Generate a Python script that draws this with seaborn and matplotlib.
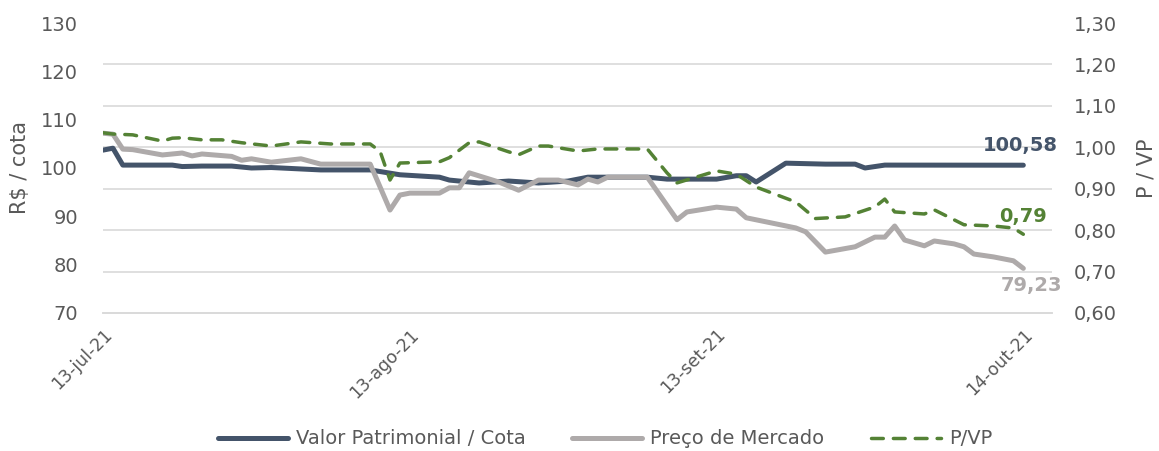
import pandas as pd
import numpy as np
import matplotlib
matplotlib.use("Agg")
import matplotlib.pyplot as plt
import seaborn as sns
from matplotlib.ticker import FixedLocator, FuncFormatter

# dias corridos desde 13-jul-21 e valores
dias_vp = [0, 1, 2, 7, 8, 10, 13, 15, 17, 22, 27, 30, 34, 35, 38, 41, 44, 47, 49,
           55, 57, 62, 64, 65, 66, 69, 73, 76, 77, 79, 93]
valor_patrimonial = [103.7, 104.1, 100.6, 100.6, 100.3, 100.4, 100.4, 100.0, 100.1, 99.6, 99.6,
                     98.6, 98.1, 97.5, 96.9, 97.3, 96.9, 97.3, 98.1, 98.1, 97.7, 97.7, 98.4,
                     98.4, 97.1, 101.0, 100.8, 100.8, 100.0, 100.6, 100.58]

dias_preco = [0, 1, 2, 3, 6, 8, 9, 10, 13, 14, 15, 17, 20, 22, 27, 29, 30, 31, 34, 35, 36,
              37, 40, 42, 44, 46, 48, 49, 50, 51, 55, 58, 59, 62, 64, 65, 70, 71, 73, 76,
              78, 79, 80, 81, 83, 84, 86, 87, 88, 90, 92, 93]
preco_mercado = [107.2, 107.0, 103.9, 103.8, 102.7, 103.1, 102.5, 102.9, 102.4, 101.6, 101.9,
                 101.2, 101.9, 100.8, 100.8, 91.3, 94.4, 94.8, 94.8, 95.9, 95.9, 99.0, 97.1,
                 95.4, 97.5, 97.5, 96.5, 97.7, 97.1, 98.1, 98.1, 89.3, 90.9, 91.9, 91.5, 89.7,
                 87.6, 86.8, 82.6, 83.7, 85.7, 85.7, 88.0, 85.1, 83.9, 84.9, 84.3, 83.7, 82.2,
                 81.6, 80.8, 79.23]

dias_pvp = [0, 1, 3, 4, 6, 7, 8, 10, 12, 14, 17, 20, 23, 27, 28, 29, 30, 34, 35, 37, 38, 41,
            42, 44, 45, 48, 50, 55, 57, 58, 62, 64, 66, 70, 72, 75, 78, 79, 80, 83, 84, 85,
            87, 90, 92, 93]
pvp = [1.035, 1.032, 1.030, 1.025, 1.015, 1.022, 1.023, 1.018, 1.018, 1.011, 1.003, 1.013,
       1.008, 1.008, 0.990, 0.921, 0.962, 0.965, 0.975, 1.011, 1.013, 0.989, 0.982, 1.003,
       1.003, 0.991, 0.996, 0.996, 0.938, 0.914, 0.943, 0.935, 0.904, 0.868, 0.828, 0.832,
       0.856, 0.875, 0.844, 0.839, 0.849, 0.837, 0.813, 0.810, 0.805, 0.79]

tick_datas = ["2021-07-13", "2021-08-13", "2021-09-13", "2021-10-14"]
tick_labels = ["13-jul-21", "13-ago-21", "13-set-21", "14-out-21"]

inicio = pd.Timestamp("2021-07-13")
df_vp = pd.DataFrame({"data": inicio + pd.to_timedelta(dias_vp, unit="D"), "v": valor_patrimonial})
df_preco = pd.DataFrame({"data": inicio + pd.to_timedelta(dias_preco, unit="D"), "v": preco_mercado})
df_pvp = pd.DataFrame({"data": inicio + pd.to_timedelta(dias_pvp, unit="D"), "v": pvp})

sns.set_style("white")
plt.rcParams["font.family"] = ["DejaVu Sans"]

cor_vp = "#44546A"
cor_preco = "#AEAAAA"
cor_pvp = "#548235"
cor_txt = "#595959"

fig = plt.figure(figsize=(11.59, 4.51), dpi=100)
ax1 = fig.add_axes([0.0889, 0.306, 0.8188, 0.643])
ax2 = ax1.twinx()

sns.lineplot(data=df_vp, x="data", y="v", ax=ax1, color=cor_vp, lw=3.6,
             estimator=None, label="Valor Patrimonial / Cota", solid_capstyle="round")
sns.lineplot(data=df_preco, x="data", y="v", ax=ax1, color=cor_preco, lw=3.6,
             estimator=None, label="Preço de Mercado", solid_capstyle="round")
sns.lineplot(data=df_pvp, x="data", y="v", ax=ax2, color=cor_pvp, lw=2.5,
             estimator=None, label="P/VP", ls=(0, (3.4, 2.9)), dash_capstyle="round")

ax1.set_ylim(70, 130)
ax2.set_ylim(0.6, 1.3)
ax1.set_xlim(inicio, inicio + pd.Timedelta(days=95.9))

ax1.set_yticks(np.arange(70, 131, 10))
ax2.set_yticks(np.arange(0.6, 1.31, 0.1))
ax2.yaxis.set_major_formatter(FuncFormatter(lambda v, p: f"{v:.2f}".replace(".", ",")))

# grade alinhada com o eixo da direita
ax1.yaxis.set_minor_locator(FixedLocator(np.linspace(70, 130, 8)))
ax1.grid(which="minor", axis="y", color="#D9D9D9", lw=1.2)
ax1.grid(which="major", axis="y", visible=False)
ax1.set_axisbelow(True)
ax2.grid(False)

ax1.set_xticks(pd.to_datetime(tick_datas))
ax1.set_xticklabels(tick_labels, rotation=45, ha="right", rotation_mode="anchor")
ax1.tick_params(axis="x", length=5, color="#D9D9D9", labelsize=12.5, labelcolor=cor_txt, pad=4)
ax1.tick_params(axis="y", which="both", length=0, labelsize=14, labelcolor=cor_txt, pad=18)
ax2.tick_params(axis="y", which="both", length=0, labelsize=14, labelcolor=cor_txt, pad=16)

for ax in (ax1, ax2):
    for s in ["top", "left", "right"]:
        ax.spines[s].set_visible(False)
    ax.spines["bottom"].set_color("#D9D9D9")
    ax.spines["bottom"].set_linewidth(1.2)

ax1.set_xlabel("")
ax1.set_ylabel("R$ / cota", fontsize=15, color=cor_txt, labelpad=8)
ax2.set_ylabel("P / VP", fontsize=15, color=cor_txt, labelpad=14)

fim = df_vp["data"].iloc[-1]
ax1.annotate("100,58", xy=(fim, valor_patrimonial[-1]), xytext=(-2, 14), textcoords="offset points",
             ha="center", va="center", fontsize=14, fontweight="bold", color=cor_vp)
ax2.annotate("0,79", xy=(fim, pvp[-1]), xytext=(0, 13), textcoords="offset points",
             ha="center", va="center", fontsize=14, fontweight="bold", color=cor_pvp)
ax1.annotate("79,23", xy=(fim, preco_mercado[-1]), xytext=(6, -12), textcoords="offset points",
             ha="center", va="center", fontsize=14, fontweight="bold", color=cor_preco)

h1, l1 = ax1.get_legend_handles_labels()
h2, l2 = ax2.get_legend_handles_labels()
ax1.get_legend().remove()
ax2.get_legend().remove()
fig.legend(h1 + h2, l1 + l2, loc="center", bbox_to_anchor=(0.522, 0.027), ncol=3,
           frameon=False, fontsize=14, handlelength=3.6, columnspacing=2.4,
           handletextpad=0.4, labelcolor=cor_txt)

fig.savefig("out.png", dpi=100)
